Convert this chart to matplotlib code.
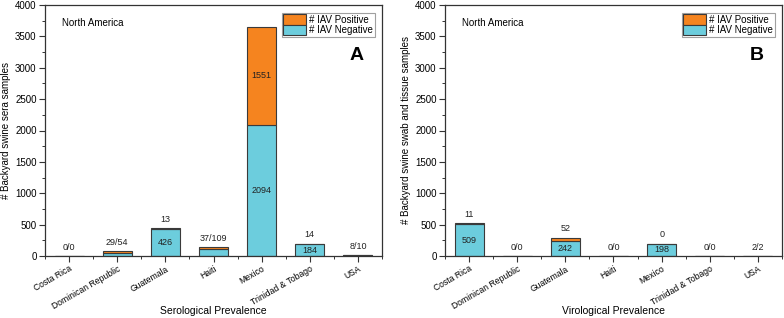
import matplotlib
matplotlib.use("Agg")
import matplotlib.pyplot as plt
import numpy as np
from matplotlib.ticker import MultipleLocator

plt.rcParams['font.family'] = ['Liberation Sans', 'DejaVu Sans']

countries = ["Costa Rica", "Dominican Republic", "Guatemala", "Haiti",
             "Mexico", "Trinidad & Tobago", "USA"]

# Panel A: serological
sero_neg = [0, 54, 426, 109, 2094, 184, 10]
sero_pos = [0, 29, 13, 37, 1551, 14, 8]
sero_top_labels = ["0/0", "29/54", "13", "37/109", "", "14", "8/10"]
sero_neg_labels = ["", "", "426", "", "2094", "184", ""]
sero_pos_labels = ["", "", "", "", "1551", "", ""]

# Panel B: virological
viro_neg = [509, 0, 242, 0, 198, 0, 2]
viro_pos = [11, 0, 52, 0, 0, 0, 2]
viro_top_labels = ["11", "0/0", "52", "0/0", "0", "0/0", "2/2"]
viro_neg_labels = ["509", "", "242", "", "198", "", ""]
viro_pos_labels = ["", "", "", "", "", "", ""]

ORANGE = "#F5841F"
CYAN = "#6CCDDD"
EDGE = "#3a3a3a"

fig = plt.figure(figsize=(7.84, 3.18), dpi=100)
axA = fig.add_axes([45/784, 1-256/318, 337/784, 251/318])
axB = fig.add_axes([445/784, 1-256/318, 337/784, 251/318])


def draw(ax, neg, pos, top_labels, neg_labels, pos_labels, ylabel, xlabel,
         letter, ylab_x):
    x = np.arange(len(countries))
    neg = np.array(neg, float)
    pos = np.array(pos, float)
    ax.bar(x, neg, width=0.6, color=CYAN, edgecolor=EDGE, linewidth=0.8,
           label="# IAV Negative", zorder=2)
    ax.bar(x, pos, width=0.6, bottom=neg, color=ORANGE, edgecolor=EDGE,
           linewidth=0.8, label="# IAV Positive", zorder=2)
    for i in range(len(x)):
        if top_labels[i]:
            ax.annotate(top_labels[i], (x[i], neg[i] + pos[i]), xytext=(0, 3),
                        textcoords="offset points", ha="center", va="bottom",
                        fontsize=6.5, color="#222222")
        if neg_labels[i]:
            ax.text(x[i], neg[i] / 2, neg_labels[i], ha="center", va="center",
                    fontsize=6.5, color="#222222", zorder=3)
        if pos_labels[i]:
            ax.text(x[i], neg[i] + pos[i] / 2, pos_labels[i], ha="center",
                    va="center", fontsize=6.5, color="#222222", zorder=3)
    ax.set_xlim(-0.5, len(x) - 0.5)
    ax.set_ylim(0, 4000)
    ax.set_xticks(x)
    ax.set_xticklabels(countries, rotation=30, ha="right", rotation_mode="anchor",
                       fontsize=6)
    ax.set_xticks(np.arange(-0.5, len(x), 1.0), minor=True)
    ax.yaxis.set_major_locator(MultipleLocator(500))
    ax.yaxis.set_minor_locator(MultipleLocator(250))
    ax.tick_params(axis="both", which="major", direction="out", length=4,
                   width=0.8, labelsize=7, color="#333333", pad=2)
    ax.tick_params(axis="x", which="major", labelsize=6.2, pad=2)
    ax.tick_params(axis="both", which="minor", direction="out", length=2.5,
                   width=0.7, color="#333333")
    for s in ax.spines.values():
        s.set_linewidth(0.9)
        s.set_color("#333333")
    ax.set_ylabel(ylabel, fontsize=7, va="center")
    ax.yaxis.set_label_coords(ylab_x, 0.5)
    ax.set_xlabel(xlabel, fontsize=7.5, va="center")
    ax.xaxis.set_label_coords(0.5, -0.218)
    ax.text(0.05, 0.93, "North America", transform=ax.transAxes, fontsize=7,
            ha="left", va="center")
    ax.text(0.925, 0.80, letter, transform=ax.transAxes, fontsize=14,
            fontweight="bold", ha="center", va="center")
    h, l = ax.get_legend_handles_labels()
    leg = ax.legend(h[::-1], l[::-1], loc="upper right", fontsize=7,
                    frameon=True, fancybox=False, borderpad=0.15,
                    labelspacing=0.0, handlelength=2.4, handleheight=1.3,
                    handletextpad=0.3, borderaxespad=0.4,
                    bbox_to_anchor=(0.99, 0.985))
    leg.get_frame().set_edgecolor("#888888")
    leg.get_frame().set_linewidth(0.8)


draw(axA, sero_neg, sero_pos, sero_top_labels, sero_neg_labels, sero_pos_labels,
     "# Backyard swine sera samples", "Serological Prevalence", "A", -0.116)
draw(axB, viro_neg, viro_pos, viro_top_labels, viro_neg_labels, viro_pos_labels,
     "# Backyard swine swab and tissue samples", "Virological Prevalence", "B",
     -0.117)

fig.savefig("out.png", dpi=100)
